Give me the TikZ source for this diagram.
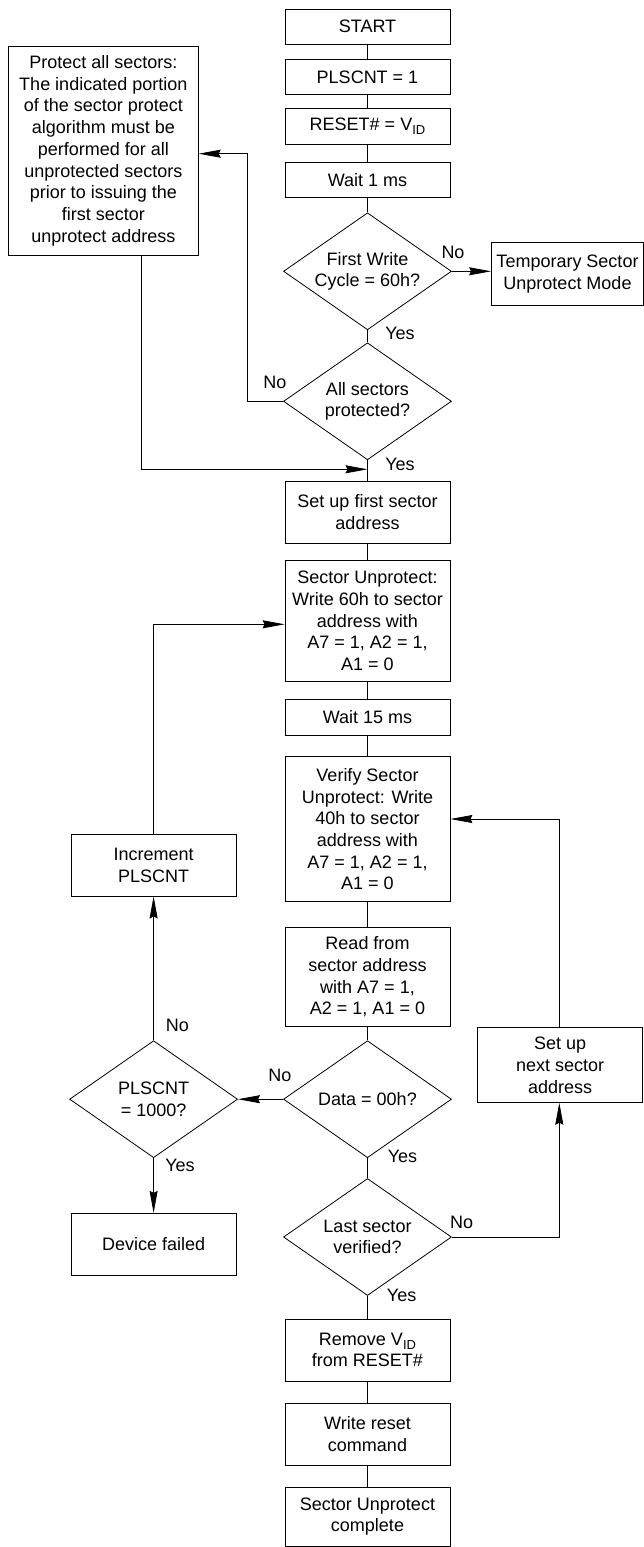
\documentclass[tikz,border=0pt]{standalone}
\usepackage{fontspec}
\setmainfont{Liberation Sans}
\usetikzlibrary{arrows.meta,shapes.geometric}
\newcommand{\vid}{V\raisebox{-4pt}{\fontsize{13}{13}\selectfont ID}}
\begin{document}
\begin{tikzpicture}[x=1pt,y=-1pt,
 base/.style={draw, line width=0.8pt, font=\fontsize{18}{21.7}\selectfont, align=center, inner sep=1pt},
 box/.style={base, rectangle, minimum width=165pt},
 dec/.style={base, diamond, minimum width=168pt, minimum height=117pt, inner sep=0pt, aspect=1.44},
 lbl/.style={font=\fontsize{18}{21.7}\selectfont, inner sep=0pt},
 conn/.style={line width=0.8pt},
 arr/.style={conn, -{Stealth[length=22pt,width=8pt,inset=2pt]}}]
\useasboundingbox (0,0) rectangle (644,1547);
% main column
\node[box, minimum height=35.3pt] (start) at (367.5,26.7) {START};
\node[box, minimum height=35.3pt] (plscnt) at (367.5,77) {PLSCNT = 1};
\node[box, minimum height=35.7pt] (reset) at (367.5,126.2) {RESET\# = \vid};
\node[box, minimum height=35.3pt] (wait1) at (367.5,179.7) {Wait 1 ms};
\node[dec] (d1) at (367.5,271.3) {First Write\\Cycle = 60h?};
\node[dec] (d2) at (367.5,401.3) {All sectors\\protected?};
\node[box, minimum height=62pt] (setup) at (367.5,512.3) {Set up first sector\\address};
\node[box, minimum height=120.6pt] (unprot) at (367.5,621) {Sector Unprotect:\\Write 60h to sector\\address with\\A7 = 1, A2 = 1,\\A1 = 0};
\node[box, minimum height=36pt] (wait15) at (367.5,717) {Wait 15 ms};
\node[box, minimum height=145pt] (verify) at (367.5,829.2) {Verify Sector\\Unprotect: Write\\40h to sector\\address with\\A7 = 1, A2 = 1,\\A1 = 0};
\node[box, minimum height=98.6pt] (read) at (367.5,977) {Read from\\sector address\\with A7 = 1,\\A2 = 1, A1 = 0};
\node[dec] (data) at (367.5,1099.2) {Data = 00h?};
\node[dec] (last) at (367.5,1237) {Last sector\\verified?};
\node[box, minimum height=62pt] (remove) at (367.5,1350) {Remove \vid\\from RESET\#};
\node[box, minimum height=62pt] (wreset) at (367.5,1434) {Write reset\\command};
\node[box, minimum height=59pt] (done) at (367.5,1516.7) {Sector Unprotect\\complete};
% side nodes
\node[box, minimum width=190pt, minimum height=208.7pt] (protect) at (103.3,150.7) {Protect all sectors:\\The indicated portion\\of the sector protect\\algorithm must be\\performed for all\\unprotected sectors\\prior to issuing the\\first sector\\unprotect address};
\node[box, minimum width=152pt, minimum height=62.3pt] (temp) at (567.5,273.8) {Temporary Sector\\Unprotect Mode};
\node[box, minimum width=164.7pt, minimum height=61.7pt] (inc) at (153.6,865.2) {Increment\\PLSCNT};
\node[dec] (pl) at (153.6,1099.2) {PLSCNT\\= 1000?};
\node[box, minimum height=62.4pt] (failed) at (153.6,1244.5) {Device failed};
\node[box, minimum height=75pt] (next) at (560.2,1065.2) {Set up\\next sector\\address};
% labels
\node[lbl] (l1) at (453,252) {No};
\node[lbl] (l2) at (400,333.3) {Yes};
\node[lbl] (l3) at (275,382.7) {No};
\node[lbl] (l4) at (400,464) {Yes};
\node[lbl] (l5) at (280,1075.7) {No};
\node[lbl] (l6) at (177.4,1025) {No};
\node[lbl] (l7) at (180,1165) {Yes};
\node[lbl] (l8) at (402.5,1156) {Yes};
\node[lbl] (l9) at (461.6,1222) {No};
\node[lbl] (l10) at (401.6,1295) {Yes};
% coordinates
\coordinate (n1) at (247.2,153.7);
\coordinate (pb) at (141.7,255);
\coordinate (pc) at (141.7,469.3);
\coordinate (pd) at (367.5,469.3);
\coordinate (i1) at (153.6,624.3);
\coordinate (v1) at (559.3,819);
\coordinate (vt) at (559.3,1027.7);
\coordinate (v0) at (559.3,1102.7);
\coordinate (v2) at (559.3,1237);
% connectors
\draw[conn] (start) -- (plscnt);
\draw[conn] (plscnt) -- (reset);
\draw[conn] (reset) -- (wait1);
\draw[conn] (wait1) -- (d1.north);
\draw[arr] (d1.east) -- (d1.east -| temp.west);
\draw[conn] (d1.south) -- (d2.north);
\draw[arr] (d2.west) -| (n1) -- (n1 -| protect.east);
\draw[conn] (d2.south) -- (setup.north);
\draw[arr] (pb) -- (pc) -- (pd);
\draw[conn] (setup) -- (unprot);
\draw[conn] (unprot) -- (wait15);
\draw[conn] (wait15) -- (verify);
\draw[conn] (verify) -- (read);
\draw[conn] (read.south) -- (data.north);
\draw[arr] (data.west) -- (pl.east);
\draw[arr] (pl.north) -- (inc.south);
\draw[arr] (inc.north) -- (i1) -- (i1 -| unprot.west);
\draw[arr] (pl.south) -- (failed.north);
\draw[conn] (data.south) -- (last.north);
\draw[arr] (last.east) -- (v2) -- (v0);
\draw[arr] (vt) -- (v1) -- (v1 -| verify.east);
\draw[conn] (last.south) -- (remove.north);
\draw[conn] (remove) -- (wreset);
\draw[conn] (wreset) -- (done);
\end{tikzpicture}
\end{document}
